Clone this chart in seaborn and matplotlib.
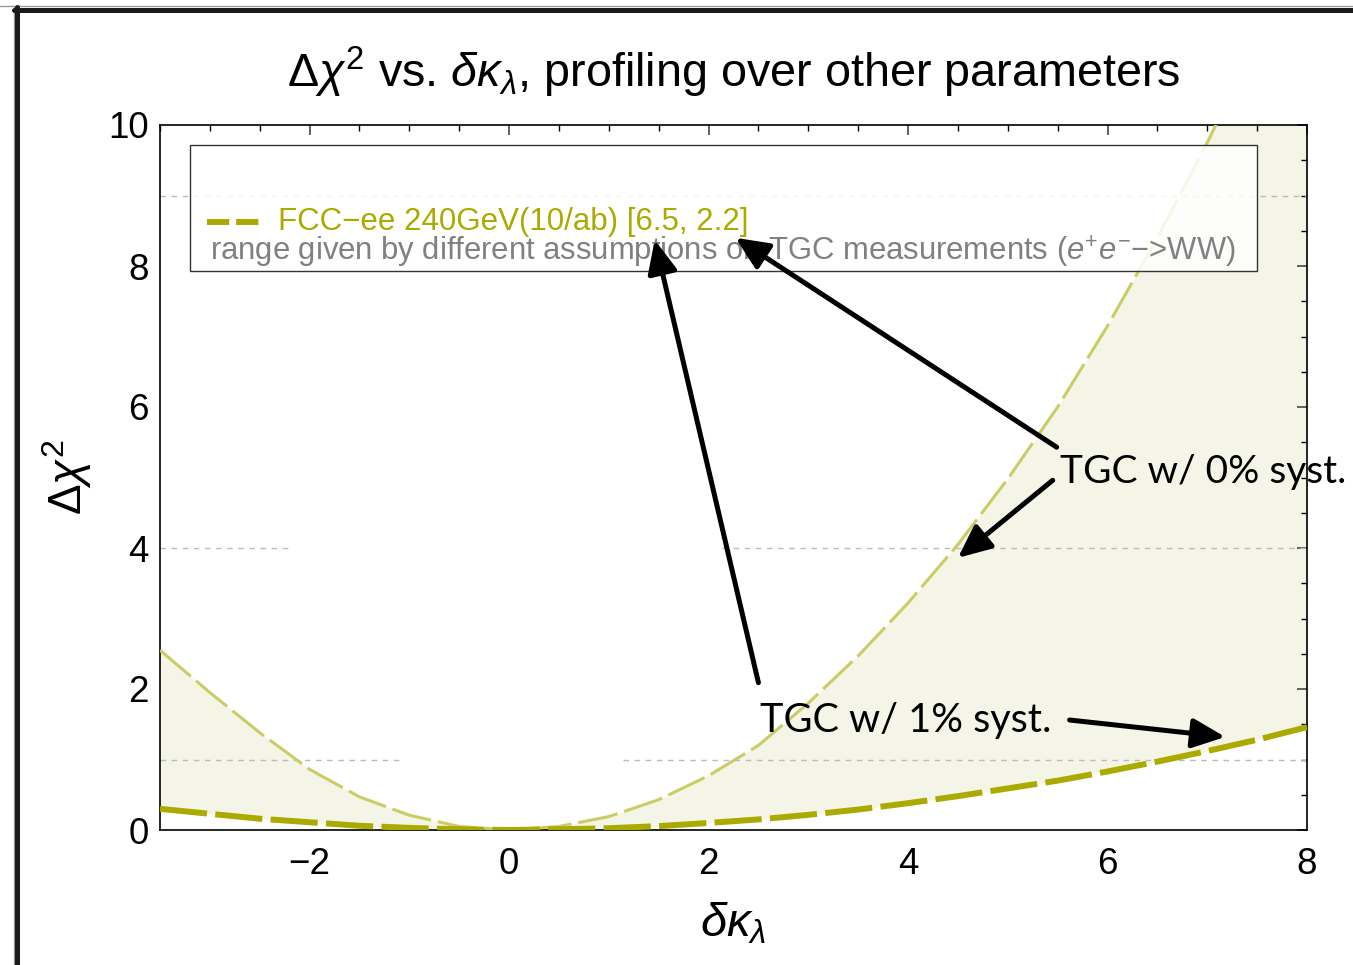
import numpy as np
import pandas as pd
import matplotlib
matplotlib.use("Agg")
import matplotlib.pyplot as plt
import seaborn as sns
from matplotlib.ticker import MultipleLocator
from matplotlib.patches import Rectangle
from matplotlib.lines import Line2D

# ---------------- data ----------------
dk_lambda = [-3.5, -3.0, -2.5, -2.0, -1.5, -1.0, -0.5, 0.0, 0.5, 1.0, 1.5, 2.0,
             2.5, 3.0, 3.5, 4.0, 4.5, 5.0, 5.5, 6.0, 6.5, 7.0, 7.5, 8.0]
chi2_tgc_0syst = [2.55, 1.95, 1.38, 0.86, 0.47, 0.21, 0.05, 0.0, 0.05, 0.19, 0.43, 0.77,
                  1.20, 1.80, 2.47, 3.22, 4.05, 4.98, 6.00, 7.15, 8.40, 9.75, 11.2, 12.8]
chi2_tgc_1syst = [0.30, 0.23, 0.16, 0.11, 0.06, 0.03, 0.01, 0.0, 0.01, 0.025, 0.055, 0.10,
                  0.15, 0.215, 0.29, 0.38, 0.48, 0.59, 0.70, 0.83, 0.97, 1.12, 1.28, 1.46]

title_text = r"$\Delta\chi^2$ vs. $\delta\kappa_\lambda$, profiling over other parameters"
legend_main = "FCC\u2212ee 240GeV(10/ab) [6.5, 2.2]"
legend_sub = ("range given by different assumptions on TGC measurements ("
              + r"$e^{+}e^{-}$" + "\u2212>WW)")
label_0syst = "TGC w/ 0% syst."
label_1syst = "TGC w/ 1% syst."

# ---------------- style ----------------
sns.set_theme(style="white")
plt.rcParams["font.family"] = ["Liberation Sans", "DejaVu Sans"]
plt.rcParams["mathtext.fontset"] = "custom"
plt.rcParams["mathtext.rm"] = "Liberation Sans"
plt.rcParams["mathtext.it"] = "Liberation Sans:italic"
plt.rcParams["mathtext.bf"] = "Liberation Sans:bold"
plt.rcParams["lines.scale_dashes"] = False
for k in ["text.color", "axes.labelcolor", "xtick.color", "ytick.color"]:
    plt.rcParams[k] = "black"

C_THICK = "#AAAA00"
C_THIN = "#CCCC66"
C_FILL = "#F4F5E6"

fig = plt.figure(figsize=(13.53, 9.65), dpi=100)
ax = fig.add_axes([160 / 1353, 135 / 965, 1147 / 1353, 705 / 965])

df = pd.DataFrame({"dk": dk_lambda, "c0": chi2_tgc_0syst, "c1": chi2_tgc_1syst})

ax.fill_between(df["dk"], df["c1"], df["c0"], color=C_FILL, lw=0, zorder=0.5)

# grid lines (partially hidden in the reference)
gkw = dict(color="#BBBBBB", lw=1, ls=(0, (4, 4)), zorder=1)
ax.axhline(1, xmin=0.0, xmax=0.212, **gkw)
ax.axhline(1, xmin=0.404, xmax=1.0, **gkw)
ax.axhline(4, xmin=0.0, xmax=0.113, **gkw)
ax.axhline(4, xmin=0.49, xmax=1.0, **gkw)
ax.axhline(9, xmin=0.0, xmax=1.0, **gkw)

sns.lineplot(data=df, x="dk", y="c0", ax=ax, color=C_THIN, lw=2.2,
             estimator=None, sort=False, zorder=3)
ax.lines[-1].set_dashes((29, 5))
sns.lineplot(data=df, x="dk", y="c1", ax=ax, color=C_THICK, lw=4.3,
             estimator=None, sort=False, zorder=4)
ax.lines[-1].set_dashes((34, 6))

ax.set_xlim(-3.5, 8)
ax.set_ylim(0, 10)
ax.xaxis.set_major_locator(MultipleLocator(2))
ax.xaxis.set_minor_locator(MultipleLocator(0.5))
ax.yaxis.set_major_locator(MultipleLocator(2))
ax.yaxis.set_minor_locator(MultipleLocator(0.5))
ax.tick_params(which="both", direction="in", top=True, right=True,
               labelsize=26.5, labelcolor="black")
ax.tick_params(which="major", length=7.5, width=1.3, color="#555555")
ax.tick_params(which="minor", length=4.5, width=1.0, color="black")
ax.tick_params(axis="x", which="major", pad=12)
ax.tick_params(axis="y", which="major", pad=8)
ax.set_xticklabels([f"{t:g}".replace("-", "\u2212") for t in ax.get_xticks()])
for s in ax.spines.values():
    s.set_color("black")
    s.set_linewidth(1.2)

ax.set_title(title_text, fontsize=33.7, pad=27, color="black")
ax.set_xlabel(r"$\delta\kappa_\lambda$", fontsize=34, labelpad=14)
ax.set_ylabel(r"$\Delta\chi^2$", fontsize=33, labelpad=10)

# legend box (drawn manually to match the reference)
ax.add_patch(Rectangle((0.026, 0.793), 0.930, 0.179, transform=ax.transAxes,
                       facecolor="white", alpha=0.85, edgecolor="none", zorder=6))
ax.add_patch(Rectangle((0.026, 0.793), 0.930, 0.179, transform=ax.transAxes,
                       facecolor="none", edgecolor="#333333", lw=1.0, zorder=7))
ax.add_line(Line2D([0.041, 0.089], [0.862, 0.862], transform=ax.transAxes,
                   color=C_THICK, lw=4.3, dashes=(16, 5), zorder=8))
ax.text(0.103, 0.863, legend_main, transform=ax.transAxes, fontsize=22.5,
        color=C_THICK, va="center", ha="left", zorder=8)
ax.text(0.044, 0.820, legend_sub, transform=ax.transAxes, fontsize=22.3,
        color="#808080", va="center", ha="left", zorder=8)

# annotations
arrow_kw = dict(arrowstyle="-|>,head_length=1.0,head_width=0.45", lw=3.6,
                color="black", shrinkA=0, shrinkB=0, mutation_scale=20)
ax.annotate("", xy=(2.27, 8.40), xytext=(5.49, 5.43), arrowprops=arrow_kw,
            annotation_clip=False, zorder=10)
ax.annotate("", xy=(4.50, 3.86), xytext=(5.45, 4.96), arrowprops=arrow_kw,
            annotation_clip=False, zorder=10)
ax.annotate("", xy=(1.46, 8.37), xytext=(2.50, 2.09), arrowprops=arrow_kw,
            annotation_clip=False, zorder=10)
ax.annotate("", xy=(7.18, 1.32), xytext=(5.62, 1.56), arrowprops=arrow_kw,
            annotation_clip=False, zorder=10)
ax.text(5.52, 5.08, label_0syst, fontsize=28, family="Lato", va="center",
        ha="left", clip_on=False, zorder=10, color="black")
ax.text(2.52, 1.56, label_1syst, fontsize=28.5, family="Lato", va="center",
        ha="left", clip_on=False, zorder=10, color="black")

# outer frame of the reference image (top and left)
fig.add_artist(Line2D([0, 1], [1 - 5.5 / 965] * 2, transform=fig.transFigure,
                      color="#999999", lw=1.0))
fig.add_artist(Line2D([13.5 / 1353] * 2, [0, 1 - 5.5 / 965], transform=fig.transFigure,
                      color="#999999", lw=1.0))
fig.add_artist(Line2D([14 / 1353, 1], [1 - 9.5 / 965] * 2, transform=fig.transFigure,
                      color="#1a1a1a", lw=3.6))
fig.add_artist(Line2D([16.5 / 1353] * 2, [0, 1 - 7 / 965], transform=fig.transFigure,
                      color="#1a1a1a", lw=3.6))

fig.savefig("out.png", dpi=100)
